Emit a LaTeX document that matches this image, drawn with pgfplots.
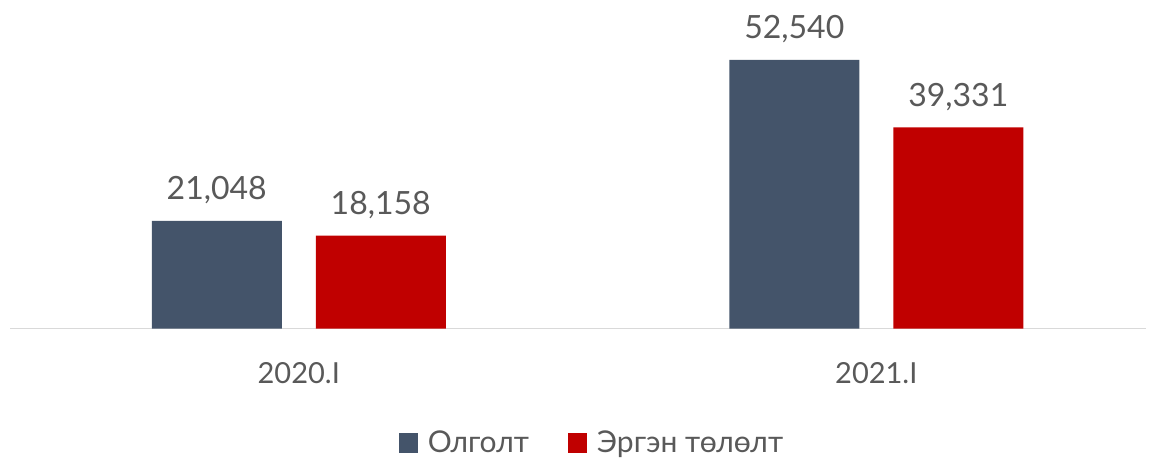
\documentclass[border=0pt]{standalone}
\usepackage{fontspec}
\setmainfont{Lato}
\usepackage{pgfplots}
\pgfplotsset{compat=1.18}
\definecolor{slate}{HTML}{44546A}
\definecolor{brickred}{HTML}{C00000}
\definecolor{labelgray}{HTML}{595959}
\definecolor{axisgray}{HTML}{D9D9D9}

\begin{document}
\begin{tikzpicture}
\begin{axis}[
    scale only axis, width=1136bp, height=328.5bp,
    xmin=-0.5, xmax=1.467, ymin=0, ymax=64280,
    hide y axis,
    axis x line*=bottom,
    x axis line style={axisgray, line width=1.3bp, -},
    xtick={0,1}, xticklabels={2020.I,2021.I},
    major tick length=0pt,
    xticklabel style={font=\fontsize{29bp}{34bp}\selectfont, text=labelgray, anchor=base, yshift=-55bp},
    ybar, bar width=130bp,
    nodes near coords,
    every node near coord/.append style={font=\fontsize{32bp}{38bp}\selectfont, text=labelgray, anchor=base, yshift=21bp},
    /pgf/number format/1000 sep={,},
    /pgf/number format/assume math mode=true,
    clip=false,
    legend columns=2,
    legend style={draw=none, fill=none, at={(axis description cs:0.5114,0)}, anchor=north, yshift=-104bp,
        font=\fontsize{30bp}{36bp}\selectfont, text=labelgray, inner sep=0pt,
        nodes={inner sep=0pt, text height=20bp, text depth=6bp}, column sep=9.5bp,
        /tikz/every even column/.append style={column sep=39bp}},
    legend image code/.code={\fill[#1] (0bp,-7bp) rectangle (19.5bp,12.5bp);},
]
\addplot[fill=slate, draw=none, bar shift=-82bp] coordinates {(0,21048) (1,52540)};
\addlegendentry{Олголт}
\addplot[fill=brickred, draw=none, bar shift=82bp] coordinates {(0,18158) (1,39331)};
\addlegendentry{Эргэн төлөлт}
\end{axis}
\path[use as bounding box] (-10bp,-130.5bp) rectangle (1146bp,328.5bp);
\end{tikzpicture}
\end{document}
